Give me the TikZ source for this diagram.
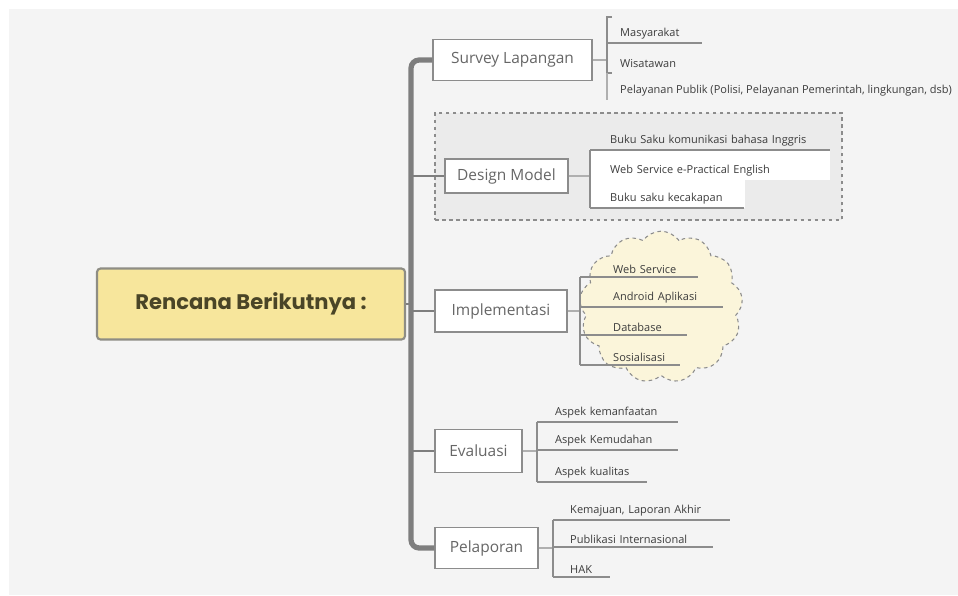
\documentclass[tikz,border=0pt]{standalone}
\usepackage{fontspec}
\setmainfont{Open Sans}
\newfontfamily\rootfont{Poppins}
\usetikzlibrary{shapes.symbols}

\definecolor{bggray}{HTML}{F4F4F4}
\definecolor{groupgray}{HTML}{EBEBEB}
\definecolor{trunkgray}{HTML}{7E7E7E}
\definecolor{linegray}{HTML}{8C8C8C}
\definecolor{rootyellow}{HTML}{F7E69C}
\definecolor{rootline}{HTML}{8E8D84}
\definecolor{roottext}{HTML}{4A4527}
\definecolor{topictext}{HTML}{666666}
\definecolor{itemtext}{HTML}{3C3C3C}
\definecolor{cloudfill}{HTML}{FBF5DA}

\tikzset{
  roottopic/.style={draw=rootline, line width=1.8pt, fill=rootyellow, rounded corners=3pt,
    minimum width=92.4mm, minimum height=21.3mm, text=roottext,
    font=\rootfont\bfseries\fontsize{18}{22}\selectfont},
  topic/.style={draw=linegray, line width=1pt, fill=white, text=topictext,
    font=\fontsize{13.2}{15}\selectfont},
  item/.style={anchor=south west, align=left, inner ysep=3pt, text=itemtext,
    font=\fontsize{9.4}{11}\selectfont},
  uline/.style={draw=linegray, line width=0.9pt},
  bracket/.style={draw=linegray, line width=1.3pt},
  trunk/.style={draw=trunkgray, line width=4.5pt, rounded corners=7pt},
  branch/.style={draw=trunkgray, line width=2pt},
  twig/.style={draw=linegray!70, line width=0.9pt},
  groupbox/.style={draw=linegray, dashed, line width=0.9pt, fill=groupgray,
    minimum width=122.1mm, minimum height=32.1mm},
  cloudbox/.style={cloud, cloud puffs=13, cloud puff arc=110, cloud ignores aspect,
    draw=linegray, dashed, line width=0.9pt, fill=cloudfill,
    minimum width=49mm, minimum height=45.5mm}
}

\begin{document}
\begin{tikzpicture}[x=0.3mm, y=0.3mm]
	\tikzstyle{every node}+=[inner sep=0pt]
	\useasboundingbox (0,0) rectangle (958,-595);
	\fill [bggray] (9,-9) rectangle (958,-595);
	% backgrounds of the groups
	\node [groupbox] (dgroup) at (638.5,-166.5) {};
	\fill [white] (590,-150) rectangle (830,-180);
	\fill [white] (590,-180) rectangle (745,-208);
	\node [cloudbox] (cloud) at (661,-307) {};
	% central topic and main topics
	\node [roottopic] (root) at (251,-304) {Rencana Berikutnya :};
	\node [topic, minimum width=47.7mm, minimum height=12.3mm] (survey) at (512.5,-60) {Survey Lapangan};
	\node [topic, minimum width=36.9mm, minimum height=10.2mm] (design) at (506.5,-176) {Design Model};
	\node [topic, minimum width=39.6mm, minimum height=12.6mm] (impl) at (501,-311) {Implementasi};
	\node [topic, minimum width=26.1mm, minimum height=12.9mm] (eval) at (478.5,-451) {Evaluasi};
	\node [topic, minimum width=30.9mm, minimum height=12.3mm] (report) at (486.5,-548) {Pelaporan};
	% trunk and branches
	\coordinate (tx) at (411,-304);
	\draw [trunk] (survey.west) -| (tx) |- (report.west);
	\draw [branch] (root.east) -- (tx);
	\draw [branch] (design.west -| tx) -- (design.west);
	\draw [branch] (impl.west -| tx) -- (impl.west);
	\draw [branch] (eval.west -| tx) -- (eval.west);
	% Survey Lapangan
	\coordinate (sb) at (607,-60);
	\node [item, text width=24.6mm] (masy) at (620,-43) {Masyarakat};
	\node [item] (wisata) at (620,-71) {Wisatawan};
	\node [item] (pelayanan) at (620,-100) {Pelayanan Publik (Polisi, Pelayanan Pemerintah, lingkungan, dsb)};
	\draw [twig] (survey.east) -- (sb);
	\draw [bracket] (612,-17) -- (607,-17) -- (607,-73) -- (612,-73);
	\draw [twig] (607,-73) -- (sb |- pelayanan.south);
	\draw [uline] (sb |- masy.south) -- (masy.south east);
	% Design Model
	\coordinate (db) at (590,-176);
	\node [item, text width=66mm] (buku) at (610,-150) {Buku Saku komunikasi bahasa Inggris};
	\node [item, text width=66mm] (webeng) at (610,-180) {Web Service e-Practical English};
	\node [item, text width=40mm] (kecakapan) at (610,-208) {Buku saku kecakapan};
	\draw [twig] (design.east) -- (db);
	\draw [bracket] (db |- buku.south) -- (db |- kecakapan.south);
	\draw [uline] (db |- buku.south) -- (buku.south east);
	\draw [uline] (db |- kecakapan.south) -- (kecakapan.south east);
	% Implementasi
	\coordinate (ib) at (580,-311);
	\node [item, text width=25.5mm] (websvc) at (613,-277) {Web Service};
	\node [item, text width=33mm] (android) at (613,-307) {Android Aplikasi};
	\node [item, text width=22.2mm] (database) at (613,-335) {Database};
	\node [item, text width=20.1mm] (sosial) at (613,-365) {Sosialisasi};
	\draw [twig] (impl.east) -- (ib);
	\draw [bracket] (ib |- websvc.south) -- (ib |- sosial.south);
	\foreach \n in {websvc,android,database,sosial}
		\draw [uline] (ib |- \n.south) -- (\n.south east);
	% Evaluasi
	\coordinate (eb) at (537,-451);
	\node [item, text width=36.9mm] (manfaat) at (555,-422) {Aspek kemanfaatan};
	\node [item, text width=36.9mm] (mudah) at (555,-450) {Aspek Kemudahan};
	\node [item, text width=27.6mm] (kualitas) at (555,-482) {Aspek kualitas};
	\draw [twig] (eval.east) -- (eb);
	\draw [bracket] (eb |- manfaat.south) -- (eb |- kualitas.south);
	\foreach \n in {manfaat,mudah,kualitas}
		\draw [uline] (eb |- \n.south) -- (\n.south east);
	% Pelaporan
	\coordinate (rb) at (553,-548);
	\node [item, text width=48mm] (kemajuan) at (570,-520) {Kemajuan, Laporan Akhir};
	\node [item, text width=42.9mm] (publikasi) at (570,-547) {Publikasi Internasional};
	\node [item, text width=12mm] (hak) at (570,-577) {HAK};
	\draw [twig] (report.east) -- (rb);
	\draw [bracket] (rb |- kemajuan.south) -- (rb |- hak.south);
	\foreach \n in {kemajuan,publikasi,hak}
		\draw [uline] (rb |- \n.south) -- (\n.south east);
\end{tikzpicture}
\end{document}
